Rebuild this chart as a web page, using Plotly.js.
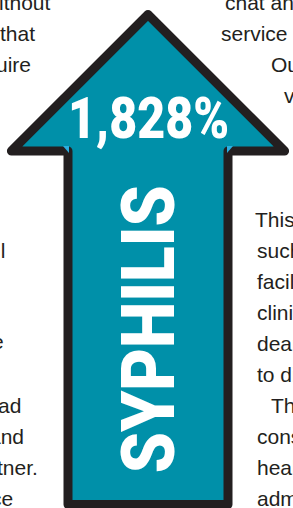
<!DOCTYPE html>
<html>
<head>
<meta charset="utf-8">
<script src="https://cdn.plot.ly/plotly-3.0.1.min.js"></script>
<style>
  html, body { margin: 0; padding: 0; background: #ffffff; overflow: hidden; }
  #chart { width: 293px; height: 508px; }
  .scatterlayer path.js-line { stroke-linejoin: round !important; stroke-linecap: round !important; }
</style>
</head>
<body>
<div id="chart"></div>
<script>
// ---- data ----
const categories = ["SYPHILIS"];
const increasePct = [1828];
const valueLabels = increasePct.map(v => v.toLocaleString("en-US") + "%");

// surrounding article text fragments (visible parts)
const leftLines = ["ithout", "that", "uire", "ll", "e", "ad", "and", "tner.", "ce"];
const rightLines = ["chat an", "service", "Ou", "vi", "This", "such", "facil", "clini", "dear", "to di", "Th", "cons", "heal", "adm"];

// ---- layout geometry (pixel space) ----
const W = 293, H = 508;
const leftRightEdge = [53, 37, 33, 7, 6, 23, 26, 40, 15];
const leftBase = [10, 41, 72, 258, 349, 413, 444, 475, 506];
const rightStart = [223, 219, 269, 282, 253, 255, 255, 255, 255, 255, 269, 255, 255, 255];
const rightBase = [10, 41, 72, 103, 227, 258, 289, 320, 351, 382, 413, 444, 475, 506];

// arrow outline (stroke centreline)
const cx = 148, tipY = 14.5, wingY = 151, wingHalf = 136.6, shaftHalf = 80, bottomY = 504.5;
const arrowX = [cx, cx + shaftHalf, cx + shaftHalf, cx + wingHalf, cx, cx - wingHalf, cx - shaftHalf, cx - shaftHalf, cx];
const arrowY = [bottomY, bottomY, wingY, wingY, tipY, wingY, wingY, bottomY, bottomY];

const textColor = "#231f20";
const teal = "#0090a9";
const bodyFont = { family: "Liberation Sans, Arial, Helvetica, sans-serif", size: 21, color: textColor };
const boldFamily = "Roboto, Liberation Sans, sans-serif";

// target text lengths of the white labels (px)
const valueLabelWidth = 161;
const categoryLabelLength = 288;

const annotations = [];
const mid = b => b - 0.35 * bodyFont.size;
leftLines.forEach((t, i) => annotations.push({
  x: leftRightEdge[i], y: mid(leftBase[i]), xref: "x", yref: "y", text: t,
  showarrow: false, xanchor: "right", yanchor: "middle", font: bodyFont
}));
rightLines.forEach((t, i) => annotations.push({
  x: rightStart[i], y: mid(rightBase[i]), xref: "x", yref: "y", text: t,
  showarrow: false, xanchor: "left", yanchor: "middle", font: bodyFont
}));
const valueIdx = annotations.length;
annotations.push({
  x: cx, y: 117.5, xref: "x", yref: "y", text: valueLabels[0],
  showarrow: false, xanchor: "center", yanchor: "middle",
  font: { family: boldFamily, size: 58, color: "#ffffff", weight: 900 }
});
const catIdx = annotations.length;
annotations.push({
  x: 148.5, y: 329, xref: "x", yref: "y", text: categories[0],
  showarrow: false, xanchor: "center", yanchor: "middle", textangle: -90,
  font: { family: boldFamily, size: 75, color: "#ffffff", weight: 900 }
});

const traces = [{
  type: "scatter", mode: "lines", x: arrowX, y: arrowY,
  fill: "toself", fillcolor: teal,
  line: { color: textColor, width: 9 },
  hoverinfo: "skip", showlegend: false
}];

// small light-blue corner tabs where the head meets the shaft
const tabs = [-1, 1].map(sd => ({
  type: "path", xref: "x", yref: "y", layer: "above",
  path: `M ${cx + sd * (shaftHalf - 1)} ${wingY - 5} L ${cx + sd * (shaftHalf + 5)} ${wingY - 5} L ${cx + sd * (shaftHalf - 1)} ${wingY + 2} Z`,
  fillcolor: "#2aaee0", line: { width: 0 }
}));

const layout = {
  width: W, height: H,
  margin: { l: 0, r: 0, t: 0, b: 0 },
  paper_bgcolor: "#ffffff", plot_bgcolor: "#ffffff",
  xaxis: { range: [0, W], visible: false, fixedrange: true },
  yaxis: { range: [H, 0], visible: false, fixedrange: true },
  showlegend: false,
  shapes: tabs,
  annotations: annotations
};

function squeeze(gd, idx, target) {
  const g = gd.querySelectorAll("g.annotation")[idx];
  if (!g) return;
  const t = g.querySelector("text.annotation-text");
  if (!t) return;
  const len = t.getComputedTextLength();
  if (!len) return;
  const s = target / len;
  const x = parseFloat(t.getAttribute("x")) || 0;
  t.setAttribute("transform", `translate(${x},0) scale(${s},1) translate(${-x},0)`);
}

Plotly.newPlot("chart", traces, layout, { staticPlot: true, displayModeBar: false }).then(gd => {
  squeeze(gd, valueIdx, valueLabelWidth);
  squeeze(gd, catIdx, categoryLabelLength);
});
</script>
</body>
</html>
